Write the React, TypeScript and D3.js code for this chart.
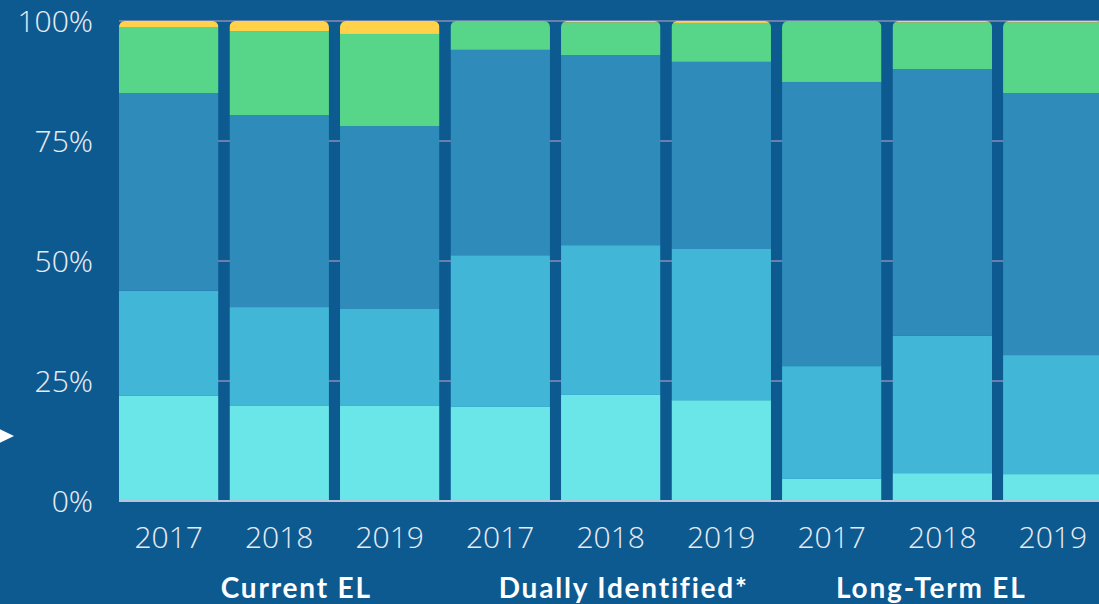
import * as d3 from "d3";
import React from "react";

const years = ["2017", "2018", "2019", "2017", "2018", "2019", "2017", "2018", "2019"];
const groups = ["Current EL", "Dually Identified*", "Long-Term EL"];
const groupOffsets = [17, 13, -11];
const seriesNames = ["Level 1", "Level 2", "Level 3", "Level 4", "Level 5"];
const level1 = [21.9, 19.8, 19.8, 19.6, 22.1, 21.0, 4.6, 5.8, 5.6];
const level2 = [21.9, 20.6, 20.2, 31.6, 31.2, 31.5, 23.5, 28.6, 24.8];
const level3 = [41.2, 40.0, 38.1, 42.8, 39.6, 39.0, 59.2, 55.6, 54.6];
const level4 = [13.75, 17.5, 19.2, 6.0, 6.8, 8.1, 12.7, 9.7, 14.7];
const level5 = [1.25, 2.1, 2.7, 0, 0.3, 0.4, 0, 0.3, 0.3];
const yTicks = [0, 25, 50, 75, 100];

const colors = ["#6ae6e9", "#41b6d6", "#2e8bba", "#57d68a", "#ffd24a"];

const width = 1099;
const height = 604;
const margin = { left: 119, top: 21, bottom: 103 };

export default function App() {
  const seriesValues = [level1, level2, level3, level4, level5];
  const rows = years.map((y, i) => {
    const row: any = { i };
    seriesNames.forEach((s, k) => (row[s] = seriesValues[k][i]));
    return row;
  });
  const stacked = d3.stack<any>().keys(seriesNames)(rows);

  const x = d3
    .scaleBand<number>()
    .domain(d3.range(years.length))
    .range([margin.left, 1102.5])
    .paddingInner(0.1)
    .paddingOuter(0);
  const y = d3.scaleLinear().domain([0, 100]).range([height - margin.bottom, margin.top]);
  const bw = x.bandwidth();

  return (
    <svg
      width={width}
      height={height}
      style={{ position: "absolute", left: 0, top: 0, display: "block" }}
    >
      <rect width={width} height={height} fill="#0d5a91" />
      <defs>
        {rows.map((r, i) => {
          const total = d3.sum(seriesValues, (v) => v[i]);
          return (
            <clipPath id={`bar-clip-${i}`} key={i}>
              <rect
                x={x(i)}
                y={y(total)}
                width={bw}
                height={y(0) - y(total) + 20}
                rx={6}
                ry={6}
              />
            </clipPath>
          );
        })}
      </defs>
      {yTicks.slice(1).map((t) => (
        <line
          key={t}
          x1={margin.left}
          x2={width}
          y1={y(t)}
          y2={y(t)}
          stroke="#6a7fab"
          strokeWidth={2}
        />
      ))}
      {rows.map((r, i) => (
        <g key={i} clipPath={`url(#bar-clip-${i})`}>
          {stacked.map((s, k) => (
            <rect
              key={k}
              x={x(i)}
              y={y(s[i][1])}
              width={bw}
              height={Math.max(0, y(s[i][0]) - y(s[i][1]))}
              fill={colors[k]}
            />
          ))}
        </g>
      ))}
      <line
        x1={margin.left}
        x2={width}
        y1={y(0)}
        y2={y(0)}
        stroke="#b9c2d9"
        strokeWidth={2}
      />
      <g
        fontFamily="'Open Sans Light', 'Open Sans', sans-serif"
        fontWeight={300}
        fontSize={30}
        fill="#e8eaf2"
      >
        {yTicks.map((t) => (
          <text key={t} x={93} y={y(t)} dy="0.36em" textAnchor="end">
            {t}%
          </text>
        ))}
        {years.map((yr, i) => (
          <text key={i} x={(x(i) as number) + bw / 2} y={548} textAnchor="middle">
            {yr}
          </text>
        ))}
      </g>
      <g
        fontFamily="Lato, sans-serif"
        fontWeight={700}
        fontSize={28}
        letterSpacing={1.8}
        fill="#ffffff"
      >
        {groups.map((g, k) => (
          <text
            key={g}
            x={(x(k * 3 + 1) as number) + bw / 2 + groupOffsets[k]}
            y={598}
            textAnchor="middle"
          >
            {g}
          </text>
        ))}
      </g>
      <path d="M-5,427 L14,436 L-5,445 Z" fill="#ffffff" />
    </svg>
  );
}
